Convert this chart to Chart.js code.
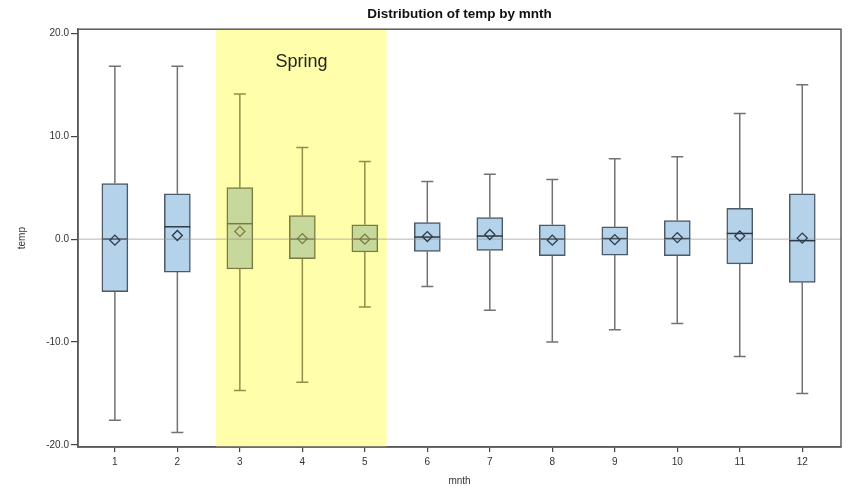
<!DOCTYPE html>
<html>
<head>
<meta charset="utf-8">
<script src="https://cdn.jsdelivr.net/npm/chart.js@4.4.0/dist/chart.umd.min.js"></script>
<style>
  html, body { margin: 0; padding: 0; background: #fff; }
  #wrap { width: 848px; height: 489px; }
</style>
</head>
<body>
<div id="wrap"><canvas id="boxChart"></canvas></div>
<script>
// values
const months = [1, 2, 3, 4, 5, 6, 7, 8, 9, 10, 11, 12];
const whiskerLow  = [-17.6, -18.8, -14.7, -13.9, -6.6, -4.6, -6.9, -10.0, -8.8, -8.2, -11.4, -15.0];
const q1          = [-5.1, -3.2, -2.9, -1.9, -1.25, -1.2, -1.1, -1.6, -1.55, -1.6, -2.4, -4.2];
const medians     = [0.0, 1.2, 1.5, 0.0, 0.0, 0.2, 0.3, 0.0, 0.05, 0.05, 0.55, -0.15];
const q3          = [5.4, 4.4, 5.0, 2.3, 1.4, 1.6, 2.1, 1.4, 1.2, 1.8, 3.0, 4.4];
const whiskerHigh = [16.8, 16.8, 14.1, 8.9, 7.55, 5.6, 6.3, 5.8, 7.8, 8.0, 12.2, 15.0];
const means       = [-0.1, 0.35, 0.75, 0.05, 0.0, 0.25, 0.45, -0.1, -0.05, 0.15, 0.3, 0.1];

const springMonths = [3, 4, 5];
const springBand = [2.62, 5.35];
const springLabel = 'Spring';
const yTicks = [-20, -10, 0, 10, 20];

const blueFill = '#b4d2ea', blueLine = '#4c5966', blueWhisker = '#727272';
const greenFill = '#c6d89b', greenLine = '#7b7b3c', greenWhisker = '#8e8e48';

function isSpring(m) {
    return springMonths.includes(m);
}

const boxData = months.map((m, i) => ({ x: m, y: [q1[i], q3[i]] }));
const meanData = months.map((m, i) => ({ x: m, y: means[i] }));

// shaded band, reference line, whiskers and frame
const boxPlotExtras = {
    id: 'boxPlotExtras',
    beforeDatasetsDraw(chart) {
        const { ctx, chartArea, scales: { x, y } } = chart;
        ctx.save();
        // spring band
        const bx0 = x.getPixelForValue(springBand[0]);
        const bx1 = x.getPixelForValue(springBand[1]);
        ctx.fillStyle = '#ffffab';
        ctx.fillRect(bx0, chartArea.top, bx1 - bx0, chartArea.bottom - chartArea.top);
        ctx.fillStyle = '#222';
        ctx.font = '18px "Liberation Sans", Arial, sans-serif';
        ctx.textAlign = 'center';
        ctx.textBaseline = 'middle';
        ctx.fillText(springLabel, (bx0 + bx1) / 2, y.getPixelForValue(17.2));

        // whiskers
        ctx.lineWidth = 1.5;
        months.forEach((m, i) => {
            const px = x.getPixelForValue(m);
            ctx.strokeStyle = isSpring(m) ? greenWhisker : blueWhisker;
            ctx.beginPath();
            ctx.moveTo(px, y.getPixelForValue(whiskerHigh[i]));
            ctx.lineTo(px, y.getPixelForValue(q3[i]));
            ctx.moveTo(px, y.getPixelForValue(q1[i]));
            ctx.lineTo(px, y.getPixelForValue(whiskerLow[i]));
            ctx.moveTo(px - 6, y.getPixelForValue(whiskerHigh[i]));
            ctx.lineTo(px + 6, y.getPixelForValue(whiskerHigh[i]));
            ctx.moveTo(px - 6, y.getPixelForValue(whiskerLow[i]));
            ctx.lineTo(px + 6, y.getPixelForValue(whiskerLow[i]));
            ctx.stroke();
        });
        ctx.restore();
    },
    afterDatasetDraw(chart, args) {
        if (args.index !== 0) return;
        const { ctx, scales: { x, y } } = chart;
        ctx.save();
        // medians on top of the boxes
        ctx.lineWidth = 1.5;
        months.forEach((m, i) => {
            const px = x.getPixelForValue(m);
            const py = y.getPixelForValue(medians[i]);
            ctx.strokeStyle = isSpring(m) ? greenLine : '#2c3a48';
            ctx.beginPath();
            ctx.moveTo(px - 13, py);
            ctx.lineTo(px + 13, py);
            ctx.stroke();
        });
        // reference line at zero
        const zy = y.getPixelForValue(0);
        ctx.strokeStyle = 'rgba(150,150,150,0.7)';
        ctx.lineWidth = 1;
        ctx.beginPath();
        ctx.moveTo(chart.chartArea.left, zy);
        ctx.lineTo(chart.chartArea.right, zy);
        ctx.stroke();
        ctx.restore();
    },
    afterDraw(chart) {
        const { ctx, chartArea } = chart;
        ctx.save();
        ctx.strokeStyle = '#5a5a5a';
        ctx.lineWidth = 1.5;
        ctx.strokeRect(chartArea.left, chartArea.top, chartArea.right - chartArea.left, chartArea.bottom - chartArea.top);
        ctx.restore();
    }
};

const config = {
    type: 'bar',
    data: {
        datasets: [{
            label: 'box',
            data: boxData,
            backgroundColor: months.map(m => isSpring(m) ? greenFill : blueFill),
            borderColor: months.map(m => isSpring(m) ? greenLine : blueLine),
            borderWidth: 1.5,
            borderSkipped: false,
            barThickness: 26,
            order: 2
        },
        {
            type: 'scatter',
            label: 'mean',
            data: meanData,
            pointStyle: 'rectRot',
            pointRadius: 5,
            backgroundColor: 'rgba(0, 0, 0, 0)', // transparent
            borderColor: months.map(m => isSpring(m) ? greenLine : '#2c3a48'),
            borderWidth: 1.3,
            order: 1
        }]
    },
    options: {
        responsive: true,
        maintainAspectRatio: false,
        animation: false,
        layout: { padding: { left: 10, right: 7, top: 0, bottom: 0 } },
        plugins: {
            legend: { display: false },
            tooltip: { enabled: false },
            title: {
                display: true,
                text: 'Distribution of temp by mnth',
                fullSize: false,
                color: '#111',
                font: { family: '"Liberation Sans", Arial, sans-serif', size: 13.5, weight: 'bold' },
                padding: { top: 6, bottom: 7 }
            }
        },
        scales: {
            x: {
                type: 'linear',
                offset: false,
                min: 0.41,
                max: 12.62,
                afterBuildTicks: scale => { scale.ticks = months.map(v => ({ value: v })); },
                afterFit: scale => { scale.height = 42; },
                grid: { offset: false, drawOnChartArea: false, drawTicks: true, tickLength: 5, color: '#444', lineWidth: 1.2 },
                border: { display: true, color: '#5a5a5a', width: 1.5 },
                ticks: {
                    color: '#333',
                    padding: 4,
                    font: { family: '"Liberation Sans", Arial, sans-serif', size: 10 },
                    callback: v => String(v)
                },
                title: {
                    display: true,
                    text: 'mnth',
                    color: '#333',
                    font: { family: '"Liberation Sans", Arial, sans-serif', size: 10 },
                    padding: { top: 0, bottom: 2 }
                }
            },
            y: {
                min: -20.2,
                max: 20.4,
                afterBuildTicks: scale => { scale.ticks = yTicks.map(v => ({ value: v })); },
                afterFit: scale => { scale.width = 68; },
                grid: { drawOnChartArea: false, drawTicks: true, tickLength: 7, color: '#444', lineWidth: 1.2 },
                border: { display: true, color: '#5a5a5a', width: 1.5 },
                ticks: {
                    color: '#333',
                    padding: 2,
                    font: { family: '"Liberation Sans", Arial, sans-serif', size: 10 },
                    callback: v => v.toFixed(1)
                },
                title: {
                    display: true,
                    text: 'temp',
                    color: '#333',
                    font: { family: '"Liberation Sans", Arial, sans-serif', size: 10 },
                    padding: { top: 6, bottom: 0 }
                }
            }
        }
    },
    plugins: [boxPlotExtras]
};

new Chart(document.getElementById('boxChart'), config);
</script>
</body>
</html>
